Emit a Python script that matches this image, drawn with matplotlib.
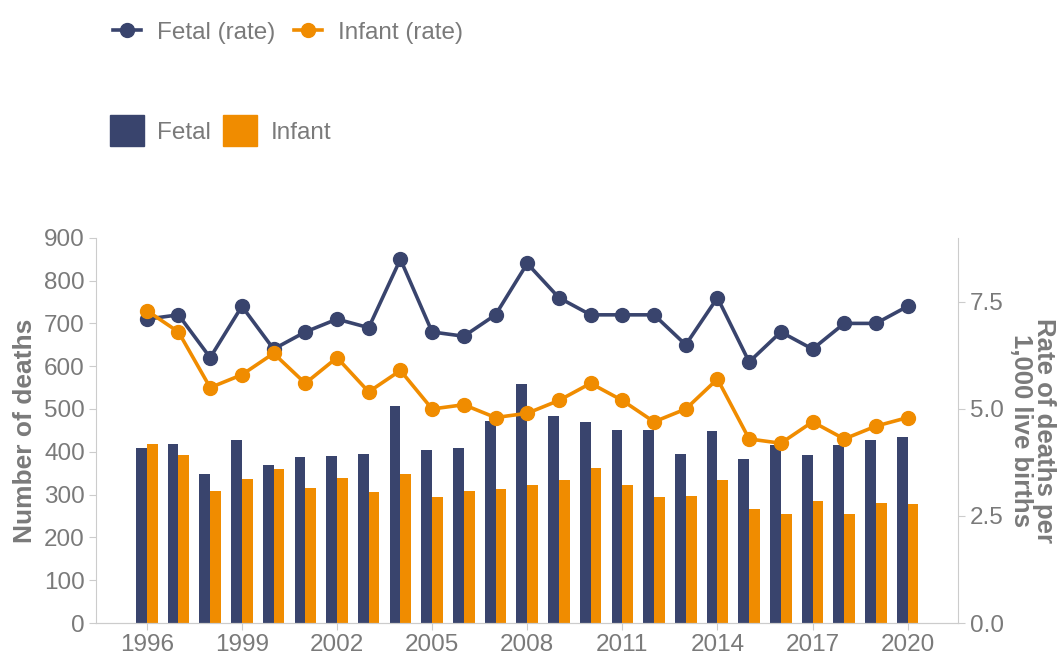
import matplotlib
matplotlib.use("Agg")
from matplotlib import pyplot as plt
from matplotlib.patches import Patch
from matplotlib.lines import Line2D
import numpy as np

plt.rcParams['font.family'] = ['Liberation Sans', 'DejaVu Sans']

years = list(range(1996, 2021))
fetal_deaths = [410, 418, 349, 427, 370, 387, 391, 394, 508, 404, 410, 472, 558,
                484, 470, 452, 450, 394, 448, 384, 416, 392, 416, 427, 435]
infant_deaths = [418, 392, 309, 336, 360, 316, 338, 305, 347, 295, 309, 313, 323,
                 333, 362, 323, 295, 296, 334, 267, 255, 284, 255, 280, 278]
fetal_rate = [7.1, 7.2, 6.2, 7.4, 6.4, 6.8, 7.1, 6.9, 8.5, 6.8, 6.7, 7.2, 8.4,
              7.6, 7.2, 7.2, 7.2, 6.5, 7.6, 6.1, 6.8, 6.4, 7.0, 7.0, 7.4]
infant_rate = [7.3, 6.8, 5.5, 5.8, 6.3, 5.6, 6.2, 5.4, 5.9, 5.0, 5.1, 4.8, 4.9,
               5.2, 5.6, 5.2, 4.7, 5.0, 5.7, 4.3, 4.2, 4.7, 4.3, 4.6, 4.8]
xticks = [1996, 1999, 2002, 2005, 2008, 2011, 2014, 2017, 2020]

navy = "#39446d"
orange = "#f08c00"
grey = "#7a7a7a"
axis_grey = "#cccccc"

fig = plt.figure(figsize=(10.59, 6.54), dpi=100)
ax = fig.add_axes([0.0907, 0.0474, 0.8143, 0.589])
ax2 = ax.twinx()

x = np.array(years)
w = 0.34
ax.bar(x - w / 2, fetal_deaths, width=w, color=navy, zorder=2)
ax.bar(x + w / 2, infant_deaths, width=w, color=orange, zorder=2)

ax2.plot(x, fetal_rate, color=navy, lw=2.6, marker='o', ms=10, zorder=3)
ax2.plot(x, infant_rate, color=orange, lw=2.6, marker='o', ms=10, zorder=3)

ax.set_xlim(1994.4, 2021.6)
ax.set_ylim(0, 900)
ax2.set_ylim(0, 9.0)
ax.set_yticks(range(0, 901, 100))
ax2.set_yticks([0, 2.5, 5.0, 7.5])
ax2.set_yticklabels(["0.0", "2.5", "5.0", "7.5"])
ax.set_xticks(xticks)

for a in (ax, ax2):
    for s in a.spines.values():
        s.set_color(axis_grey)
    a.spines['top'].set_visible(False)
    a.tick_params(colors=axis_grey, labelcolor=grey, labelsize=17.5, length=5, pad=3)
ax2.spines['left'].set_visible(False)
ax.spines['right'].set_visible(False)

ax.set_ylabel("Number of deaths", fontsize=19, fontweight='bold', color=grey, labelpad=5)
ax2.set_ylabel("Rate of deaths per\n1,000 live births", fontsize=18.5, fontweight='bold',
               color=grey, rotation=270, labelpad=38, linespacing=0.95)

line_handles = [Line2D([], [], color=navy, lw=2.6, marker='o', ms=10),
                Line2D([], [], color=orange, lw=2.6, marker='o', ms=10)]
fig.legend(line_handles, ["Fetal (rate)", "Infant (rate)"], loc='upper left',
           bbox_to_anchor=(0.086, 1.0), ncol=2, frameon=False, fontsize=17.5,
           labelcolor=grey, handlelength=1.15, handletextpad=0.65, columnspacing=0.8)

bar_handles = [Patch(color=navy), Patch(color=orange)]
fig.legend(bar_handles, ["Fetal", "Infant"], loc='upper left',
           bbox_to_anchor=(0.083, 0.857), ncol=2, frameon=False, fontsize=17.5,
           labelcolor=grey, handlelength=1.4, handleheight=1.55, handletextpad=0.55,
           columnspacing=0.5)

fig.savefig("out.png", dpi=100)
